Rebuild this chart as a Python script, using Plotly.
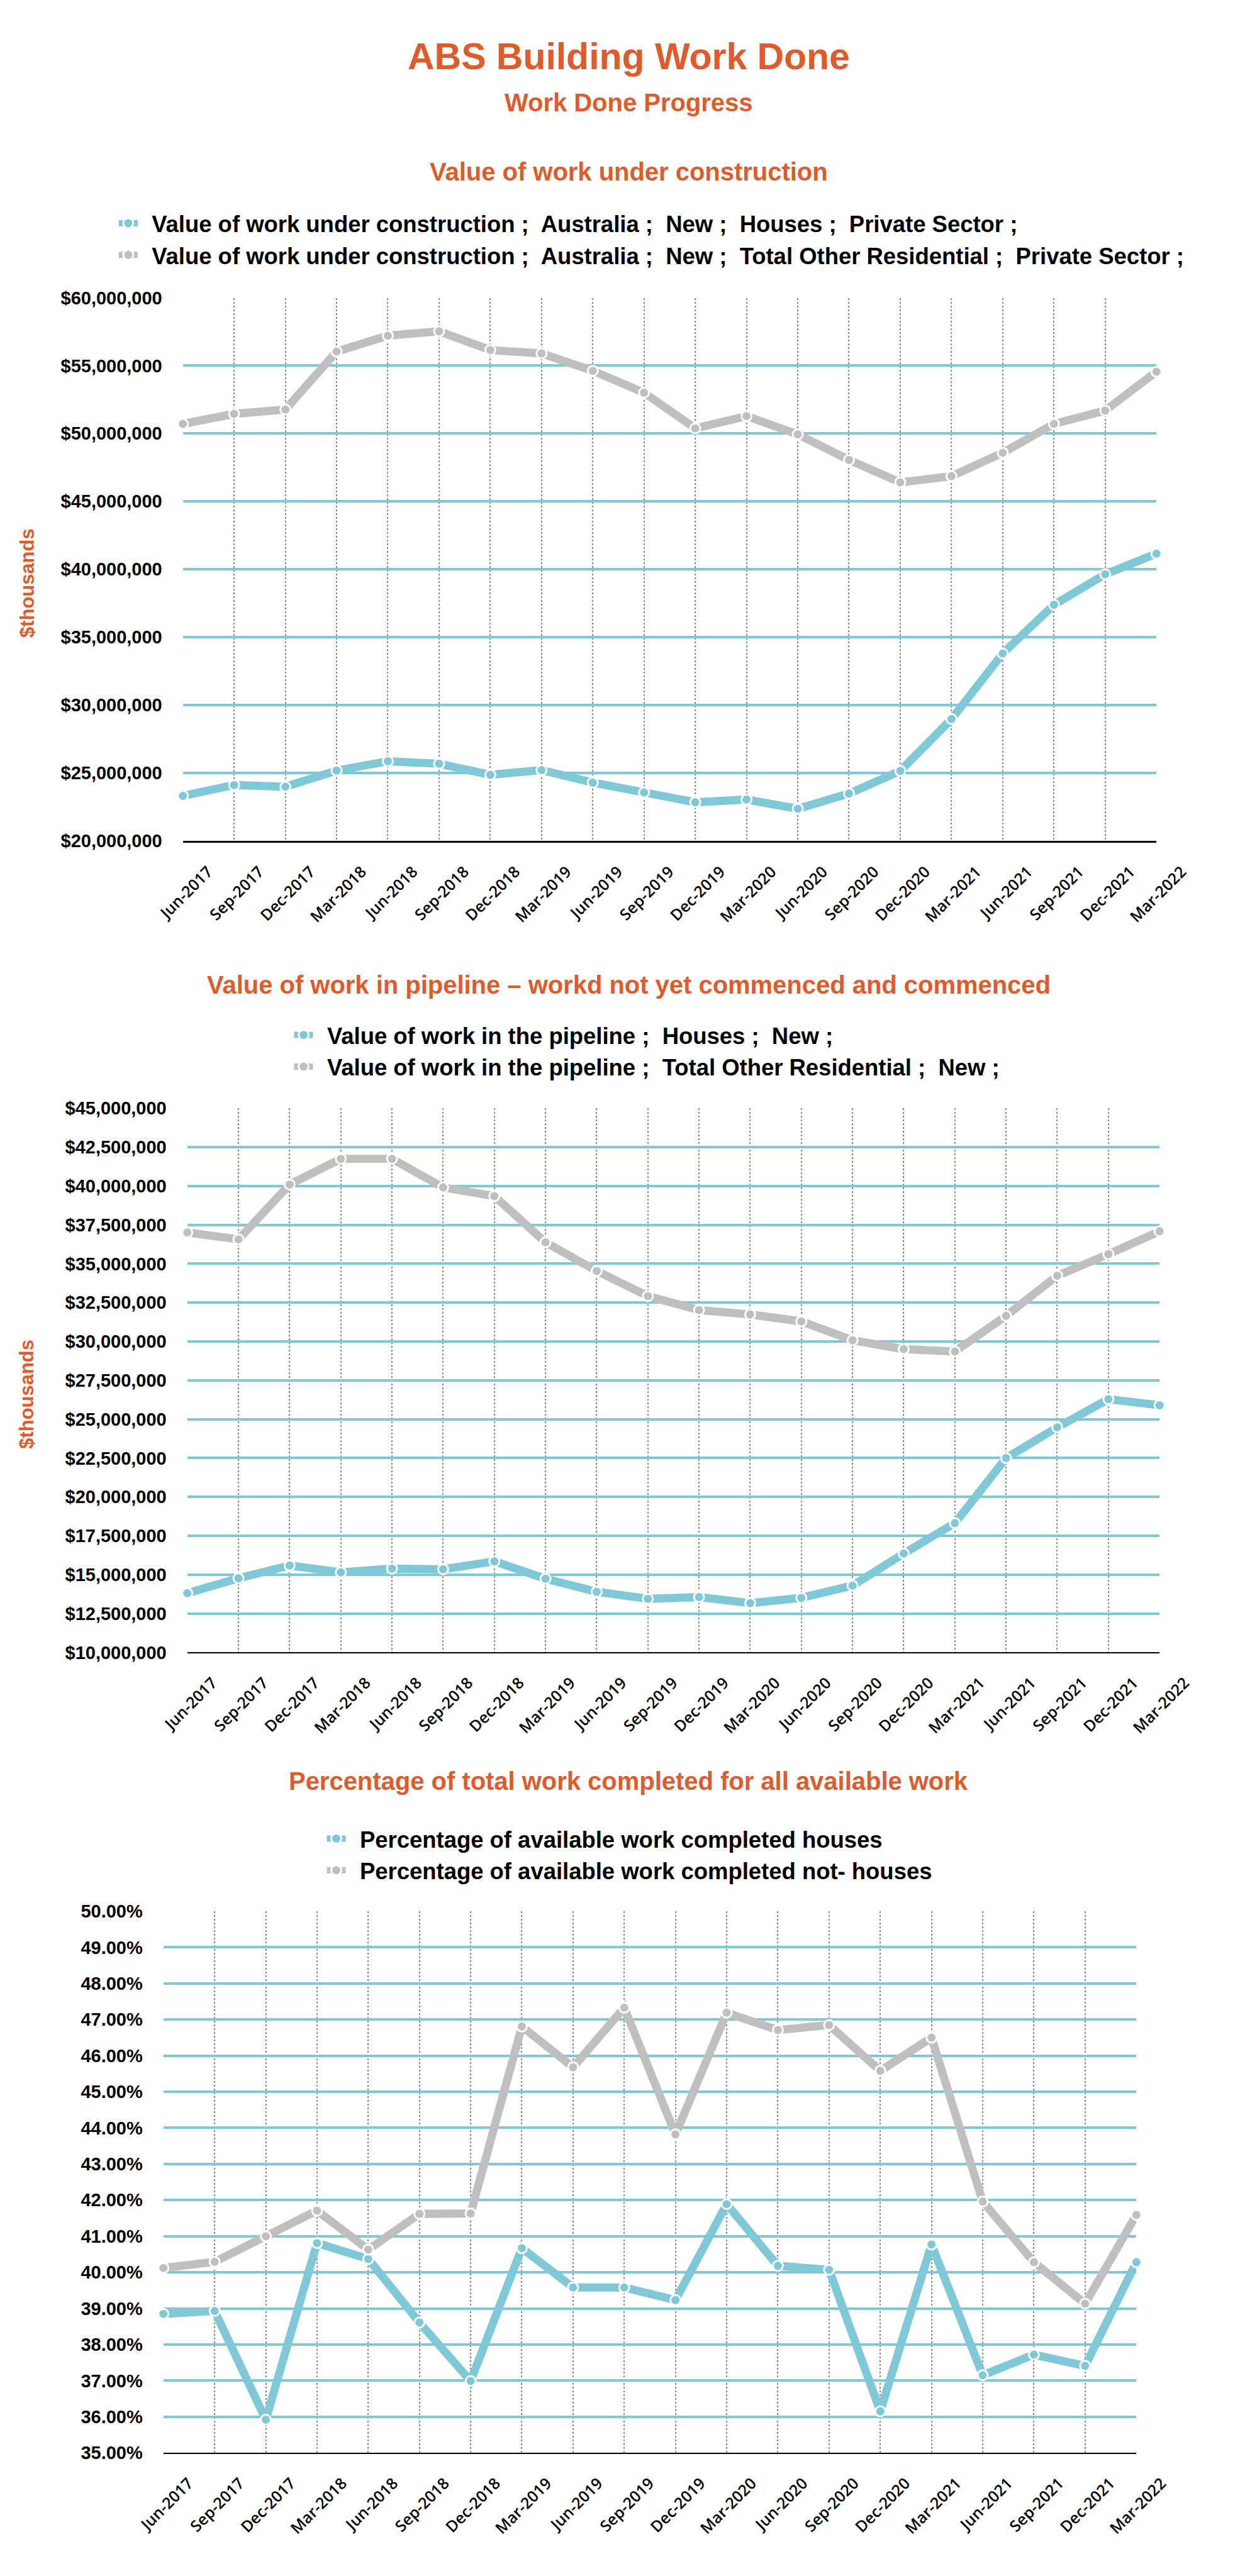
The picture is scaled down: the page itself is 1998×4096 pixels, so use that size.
import plotly.graph_objects as go

# ---------------- data ----------------
dates = ["Jun-2017", "Sep-2017", "Dec-2017", "Mar-2018", "Jun-2018", "Sep-2018",
         "Dec-2018", "Mar-2019", "Jun-2019", "Sep-2019", "Dec-2019", "Mar-2020",
         "Jun-2020", "Sep-2020", "Dec-2020", "Mar-2021", "Jun-2021", "Sep-2021",
         "Dec-2021", "Mar-2022"]

uc_houses = [23300000, 24100000, 23970000, 25160000, 25850000, 25670000, 24850000,
             25200000, 24280000, 23550000, 22830000, 23030000, 22350000, 23470000,
             25140000, 28960000, 33790000, 37380000, 39630000, 41150000]
uc_other = [50710000, 51450000, 51770000, 56040000, 57210000, 57530000, 56150000,
            55900000, 54620000, 53010000, 50380000, 51280000, 49940000, 48050000,
            46400000, 46860000, 48580000, 50710000, 51690000, 54560000]

pipe_houses = [13810000, 14770000, 15590000, 15150000, 15390000, 15350000, 15860000,
               14740000, 13900000, 13450000, 13560000, 13170000, 13510000, 14300000,
               16360000, 18320000, 22500000, 24480000, 26290000, 25900000]
pipe_other = [37010000, 36570000, 40100000, 41750000, 41750000, 39910000, 39350000,
              36380000, 34540000, 32920000, 32020000, 31740000, 31290000, 30080000,
              29510000, 29360000, 31650000, 34230000, 35620000, 37090000]

pct_houses = [38.85, 38.93, 35.92, 40.81, 40.37, 38.61, 36.99, 40.67, 39.58, 39.58,
              39.23, 41.89, 40.18, 40.07, 36.15, 40.77, 37.15, 37.72, 37.41, 40.28]
pct_other = [40.12, 40.29, 41.00, 41.71, 40.63, 41.62, 41.63, 46.81, 45.68, 47.33,
             43.82, 47.19, 46.71, 46.85, 45.58, 46.50, 41.96, 40.28, 39.13, 41.59]

legend1_names = ["Value of work under construction ;  Australia ;  New ;  Houses ;  Private Sector ;",
                 "Value of work under construction ;  Australia ;  New ;  Total Other Residential ;  Private Sector ;"]
legend2_names = ["Value of work in the pipeline ;  Houses ;  New ;",
                 "Value of work in the pipeline ;  Total Other Residential ;  New ;"]
legend3_names = ["Percentage of available work completed houses",
                 "Percentage of available work completed not- houses"]

# ---------------- style ----------------
W, H = 1998, 4096
RW, RH = 2000.0, 4100.0
S = 0.999
TEAL = "#7EC8D7"
GREY = "#BFBFBF"
ORANGE = "#E05A2A"
COND = "Liberation Sans, Arial, sans-serif"
TICKF = "Liberation Sans, Arial, sans-serif"
XTICKF = "Open Sans, Noto Sans, sans-serif"
PAD = "\u00a0\u2009"   # small gap between legend symbol and its text


def fx(px):
    return px / RW


def fy(py):
    return 1 - py / RH


fig = go.Figure()

series = [
    (uc_houses, uc_other, legend1_names, "x", "y", "legend"),
    (pipe_houses, pipe_other, legend2_names, "x2", "y2", "legend2"),
    (pct_houses, pct_other, legend3_names, "x3", "y3", "legend3"),
]
for h, o, names, xa, ya, lg in series:
    for vals, col, nm in ((h, TEAL, names[0]), (o, GREY, names[1])):
        fig.add_trace(go.Scatter(
            x=dates, y=vals, name=PAD + nm, mode="lines+markers",
            line=dict(color=col, width=13 * S),
            marker=dict(size=16 * S, color=col, line=dict(color="white", width=3 * S)),
            xaxis=xa, yaxis=ya, legend=lg, cliponaxis=False))

plots = [
    # (xl, xr, ytop, ybot, range, dtick, prefix, suffix, fmt, linewidth)
    (291, 1840, 474, 1338, [20000000, 60000000], 5000000, "$", "", ",d", 3),
    (298, 1845, 1764, 2630, [10000000, 45000000], 2500000, "$", "", ",d", 2),
    (260, 1808, 3042, 3904, [35, 50], 1, "", "%", ".2f", 2),
]
layout_axes = {}
for i, (xl, xr, yt, yb, rng, dt, pre, suf, fmt, lw) in enumerate(plots):
    k = "" if i == 0 else str(i + 1)
    layout_axes["xaxis" + k] = dict(
        domain=[fx(xl), fx(xr)], anchor="y" + k, range=[0, 19], automargin=False,
        showgrid=True, gridcolor="#8C8C8C", griddash="dot", gridwidth=2 * S,
        showline=True, linecolor="black", linewidth=lw * S, zeroline=False,
        ticks="", tickangle=-45, ticklabelshift=40, ticklabelstandoff=22,
        tickfont=dict(family=XTICKF, size=25 * S, color="black", weight=600),
        fixedrange=True)
    layout_axes["yaxis" + k] = dict(
        domain=[fy(yb), fy(yt)], anchor="x" + k, range=rng, dtick=dt, tick0=rng[0],
        tickprefix=pre, ticksuffix=suf, tickformat=fmt, automargin=False,
        showgrid=True, gridcolor=TEAL, gridwidth=4 * S, zeroline=False, showline=False,
        ticks="", ticklabelstandoff=32,
        tickfont=dict(family=TICKF, size=29 * S, color="black", weight="bold"),
        fixedrange=True)

legend_font = dict(family=COND, size=36.5 * S, color="black", weight="bold")
legends = {}
for name, lx, ly in (("legend", 184, 325), ("legend2", 463, 1617), ("legend3", 515, 2896)):
    legends[name] = dict(x=fx(lx), y=fy(ly), xanchor="left", yanchor="top",
                         font=legend_font, bgcolor="rgba(0,0,0,0)",
                         itemwidth=30, tracegroupgap=0, traceorder="normal")

annotations = []


def add_text(text, x, y, size, angle=0):
    annotations.append(dict(
        text=text, x=fx(x), y=fy(y), xref="paper", yref="paper",
        xanchor="center", yanchor="middle", showarrow=False, textangle=angle,
        font=dict(family=COND, size=size * S, color=ORANGE, weight="bold")))


add_text("ABS Building Work Done", 1000, 90, 59)
add_text("Work Done Progress", 1000, 163, 40)
add_text("Value of work under construction", 1000, 273, 40)
add_text("Value of work in pipeline \u2013 workd not yet commenced and commenced", 1000, 1568, 40)
add_text("Percentage of total work completed for all available work", 1000, 2835, 40)
add_text("$thousands", 43, 928, 31, -90)
add_text("$thousands", 43, 2219, 31, -90)

fig.update_layout(
    width=W, height=H, margin=dict(l=0, r=0, t=0, b=0, autoexpand=False),
    paper_bgcolor="white", plot_bgcolor="white",
    hovermode=False, showlegend=True,
    annotations=annotations,
    **layout_axes, **legends)

fig.write_html("out.html", config={"displayModeBar": False},
               post_script="document.body.style.margin='0px';")
